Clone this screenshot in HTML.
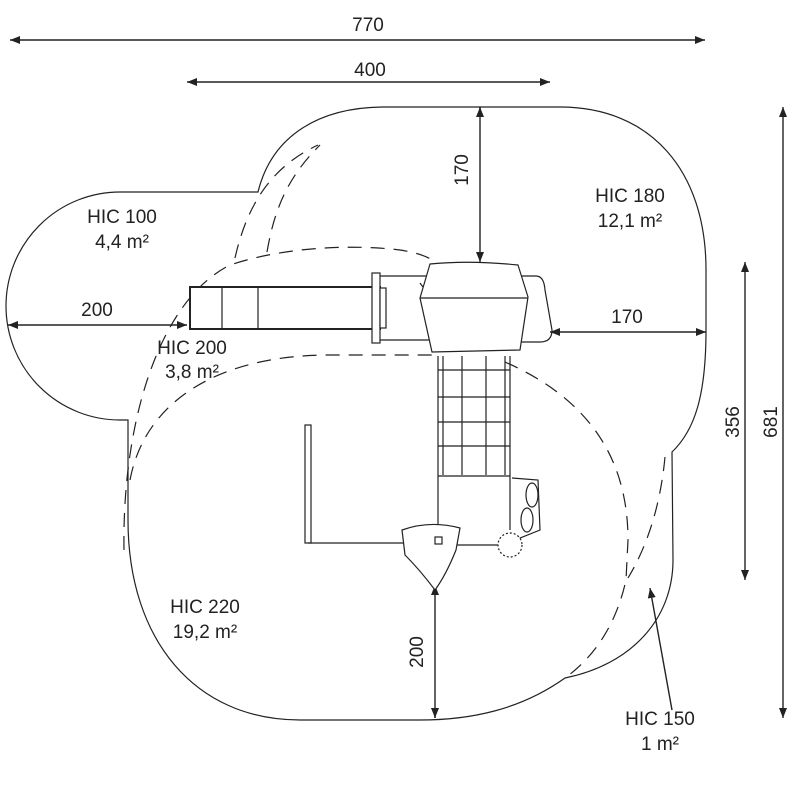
<!DOCTYPE html>
<html><head><style>body{margin:0;background:#fff}svg{display:block}text{font-family:"Liberation Sans",sans-serif;fill:#222}</style></head><body>
<svg width="800" height="800" viewBox="0 0 800 800">
<defs><marker id="a" viewBox="0 0 10 10" refX="10" refY="5" markerWidth="10" markerHeight="10" orient="auto-start-reverse" markerUnits="userSpaceOnUse"><path d="M0,1 L10,5 L0,9 Z" fill="#222"/></marker></defs>
<g fill="none" stroke="#222" stroke-width="1.2">
<path d="M128 420 L120 420 A114 114 0 0 1 120 192 L258 192 C272 135 320 107 385 107 L560 107 C650 107 706 170 706 270 L706 330 C706 395 695 430 672 452 L673 560 C673 620 630 665 565 678 C520 710 470 720 420 720 L300 720 C195 720 128 640 128 520 Z"/>
<g stroke-dasharray="14 9">
<path d="M124 550 C122 420 160 300 230 265 C290 245 360 245 400 250 C420 253 430 258 435 262"/>
<path d="M420 283 L470 350"/>
<path d="M130 480 C145 400 220 355 330 355 L440 355"/>
<path d="M505 362 C580 395 628 450 628 540 L626 580 C615 630 590 660 565 678"/>
<path d="M235 258 C248 200 275 165 318 145"/>
<path d="M267 252 C275 205 290 175 320 145"/>
<path d="M665 457 C660 510 645 550 628 578"/>
</g>
</g>
<g stroke="#222" stroke-width="1.4" fill="none" marker-start="url(#a)" marker-end="url(#a)">
<line x1="10" y1="40" x2="705" y2="40"/>
<line x1="187" y1="82" x2="550" y2="82"/>
<line x1="8" y1="325" x2="187" y2="325"/>
<line x1="550" y1="332" x2="706" y2="332"/>
<line x1="745" y1="262" x2="745" y2="580"/>
<line x1="783" y1="107" x2="783" y2="718"/>
</g>
<g stroke="#222" stroke-width="1.4" fill="none" marker-end="url(#a)">
<line x1="480" y1="107" x2="480" y2="262"/>
<line x1="435" y1="718" x2="435" y2="585"/>
<line x1="672" y1="710" x2="650" y2="588"/>
</g>
<line x1="480" y1="107" x2="480" y2="115" stroke="#222" stroke-width="1.4" marker-start="url(#a)"/>
<line x1="435" y1="718" x2="435" y2="710" stroke="#222" stroke-width="1.4" marker-start="url(#a)"/>
<g stroke="#222" stroke-width="1.2" fill="#fff">
<rect x="190" y="287" width="190" height="42" stroke-width="2"/>
<line x1="222" y1="287" x2="222" y2="329"/><line x1="258" y1="287" x2="258" y2="329"/>
<rect x="372" y="273" width="8" height="70"/><rect x="380" y="288" width="6" height="40"/>
<line x1="380" y1="276" x2="430" y2="276"/><line x1="380" y1="340" x2="430" y2="340"/>
<path d="M520 276 L536 276 Q544 276 545 290 L552 330 Q552 342 540 342 L520 342" fill="none"/>
<path d="M430 264 Q470 260 518 265 L528 297 L520 350 L432 352 L420 298 Z"/>
<line x1="420" y1="298" x2="528" y2="298"/>
<line x1="438" y1="356" x2="438" y2="530"/><line x1="510" y1="356" x2="510" y2="530"/>
<line x1="443" y1="356" x2="443" y2="475"/><line x1="462" y1="356" x2="462" y2="475"/><line x1="486" y1="356" x2="486" y2="475"/><line x1="505" y1="356" x2="505" y2="475"/>
<line x1="438" y1="370" x2="510" y2="370"/><line x1="438" y1="397" x2="510" y2="397"/><line x1="438" y1="422" x2="510" y2="422"/><line x1="438" y1="446" x2="510" y2="446"/><line x1="438" y1="476" x2="510" y2="476"/>
<rect x="305" y="425" width="6" height="118"/>
<line x1="308" y1="543" x2="405" y2="543"/>
<line x1="455" y1="545" x2="510" y2="545"/>
<path d="M402 530 Q430 520 460 528 L456 550 Q446 575 435 590 Q420 570 405 555 Z"/>
<rect x="435" y="537" width="7" height="7"/>
<path d="M512 478 L538 480 L540 530 L520 538 L512 540"/>
<ellipse cx="532" cy="495" rx="6" ry="12"/><ellipse cx="527" cy="520" rx="6" ry="12"/>
<circle cx="510" cy="545" r="12" stroke-dasharray="2 2"/>
</g>
<g font-size="19" text-anchor="middle">
<text x="368" y="31">770</text>
<text x="370" y="76">400</text>
<text x="97" y="316">200</text>
<text x="627" y="323">170</text>
<text x="122" y="223">HIC 100</text><text x="122" y="248">4,4 m²</text>
<text x="630" y="202">HIC 180</text><text x="630" y="227">12,1 m²</text>
<text x="192" y="354">HIC 200</text><text x="192" y="378">3,8 m²</text>
<text x="205" y="613">HIC 220</text><text x="205" y="638">19,2 m²</text>
<text x="660" y="725">HIC 150</text><text x="660" y="750">1 m²</text>
<text transform="translate(468 170) rotate(-90)">170</text>
<text transform="translate(423 652) rotate(-90)">200</text>
<text transform="translate(739 422) rotate(-90)">356</text>
<text transform="translate(777 422) rotate(-90)">681</text>
</g>
</svg>
</body></html>
